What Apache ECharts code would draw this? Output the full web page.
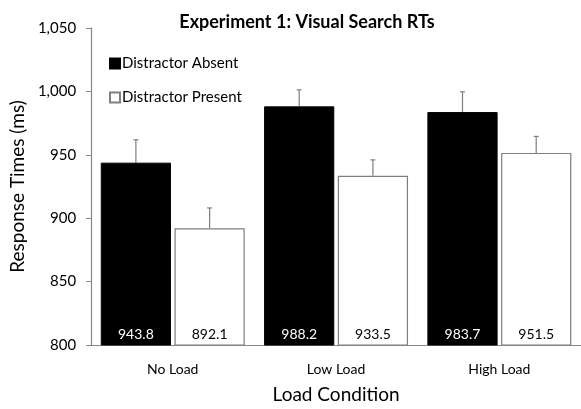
<!DOCTYPE html>
<html><head><meta charset="utf-8">
<script src="https://cdn.jsdelivr.net/npm/echarts@6/dist/echarts.min.js"></script>
<style>html,body{margin:0;padding:0;background:#fff}#c{width:581px;height:409px}</style>
</head><body><div id="c"></div>
<script>
const categories = ['No Load', 'Low Load', 'High Load'];
const absent = [943.8, 988.2, 983.7];
const present = [892.1, 933.5, 951.5];
const absentErr = [18, 13, 16];
const presentErr = [16, 12.5, 13];
const yMin = 800, yMax = 1050, yStep = 50;

const FONT = 'Lato';
const BW = 0.43, GAP = 0.05;
const chart = echarts.init(document.getElementById('c'), null, {renderer: 'canvas'});

function errSeries(vals, errs, sign) {
  return {
    type: 'custom',
    z: 1,
    silent: true,
    data: vals.map((v, i) => [i, v, errs[i]]),
    renderItem: function (params, api) {
      const i = api.value(0), v = api.value(1), e = api.value(2);
      const band = api.size([1, 0])[0];
      const bw = band * BW;
      const off = sign * (bw / 2 + bw * GAP / 2);
      const p0 = api.coord([i, v]);
      const p1 = api.coord([i, v + e]);
      const x = p0[0] + off;
      const style = {stroke: '#7f7f7f', lineWidth: 1.2};
      return {type: 'group', children: [
        {type: 'line', shape: {x1: x, y1: p0[1], x2: x, y2: p1[1]}, style: style},
        {type: 'line', shape: {x1: x - 2.5, y1: p1[1], x2: x + 2.5, y2: p1[1]}, style: style}
      ]};
    }
  };
}

chart.setOption({
  animation: false,
  backgroundColor: '#fff',
  textStyle: {fontFamily: FONT},
  title: {
    text: 'Experiment 1: Visual Search RTs',
    left: 302, top: 8, textAlign: 'center',
    textStyle: {fontFamily: FONT, fontSize: 18, fontWeight: 'bold', color: '#000'}
  },
  legend: {
    orient: 'vertical', left: 104, top: 51, itemGap: 19,
    itemWidth: 10, itemHeight: 10,
    icon: 'rect',
    textStyle: {fontFamily: FONT, fontSize: 15, color: '#000', padding: [0, 0, 0, -3]},
    data: ['Distractor Absent', 'Distractor Present']
  },
  grid: {left: 88, top: 28, bottom: 60, right: -7},
  xAxis: {
    type: 'category', data: categories,
    name: 'Load Condition', nameLocation: 'middle', nameGap: 40,
    nameTextStyle: {fontFamily: FONT, fontSize: 19, color: '#000'},
    axisLine: {lineStyle: {color: '#868686', width: 1.2}},
    axisTick: {show: false},
    axisLabel: {fontFamily: FONT, fontSize: 14, color: '#000', margin: 17}
  },
  yAxis: {
    type: 'value', min: yMin, max: yMax, interval: yStep,
    name: 'Response Times (ms)', nameLocation: 'middle', nameGap: 58,
    nameTextStyle: {fontFamily: FONT, fontSize: 19, color: '#000'},
    axisLine: {show: true, lineStyle: {color: '#868686', width: 1.2}},
    axisTick: {show: true, length: 5, lineStyle: {color: '#868686'}},
    splitLine: {show: false},
    axisLabel: {fontFamily: FONT, fontSize: 15, color: '#000', margin: 15,
      formatter: v => v.toLocaleString('en-US')}
  },
  series: [
    {
      name: 'Distractor Absent', type: 'bar', data: absent,
      barWidth: (BW * 100) + '%', barGap: (GAP * 100) + '%',
      itemStyle: {color: '#000', borderColor: '#000', borderWidth: 1},
      label: {show: true, position: 'insideBottom', distance: 4, color: '#fff',
        fontFamily: FONT, fontSize: 14, formatter: p => p.value.toFixed(1)}
    },
    {
      name: 'Distractor Present', type: 'bar', data: present,
      barWidth: (BW * 100) + '%',
      itemStyle: {color: '#fff', borderColor: '#7f7f7f', borderWidth: 1.2},
      label: {show: true, position: 'insideBottom', distance: 4, color: '#000',
        fontFamily: FONT, fontSize: 14, formatter: p => p.value.toFixed(1)}
    },
    errSeries(absent, absentErr, -1),
    errSeries(present, presentErr, 1)
  ]
});
</script></body></html>
